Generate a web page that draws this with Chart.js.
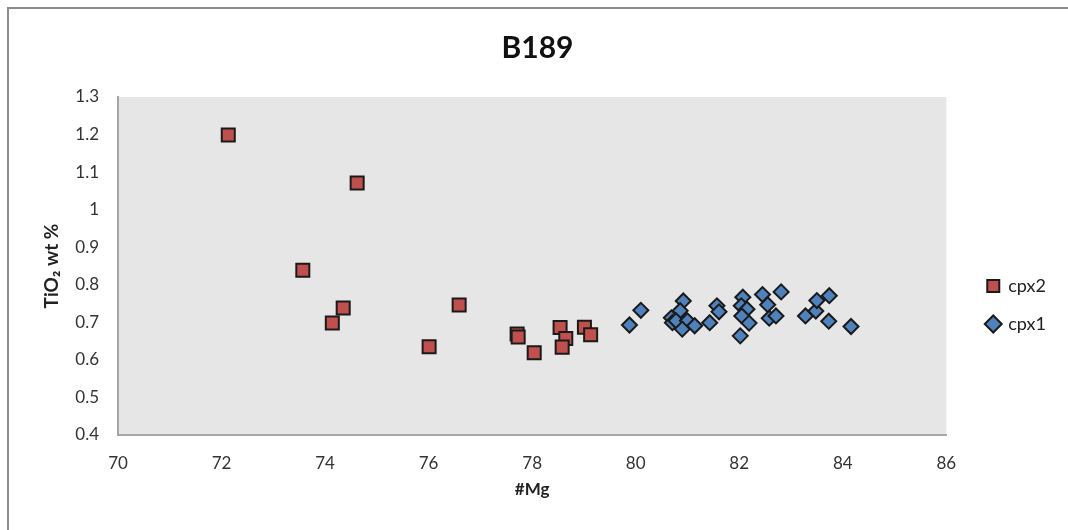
<!DOCTYPE html>
<html>
<head>
<meta charset="utf-8">
<script src="https://cdn.jsdelivr.net/npm/chart.js@4.4.1/dist/chart.umd.min.js"></script>
<style>
  body { margin: 0; background: #fff; overflow: hidden; }
  #frame {
    position: absolute; left: 7px; top: 7px; width: 1200px; height: 700px;
    border-left: 2px solid #8c8c8c; border-top: 2px solid #8c8c8c;
  }
  #wrap { position: absolute; left: 0; top: 0; width: 1068px; height: 530px; }
</style>
</head>
<body>
<div id="frame"></div>
<div id="wrap"><canvas id="chartB189" width="1068" height="530"></canvas></div>
<script>
// ---------------------------------------------------------------------------
//  Daten
// ---------------------------------------------------------------------------
const cpx2Mg  = [72.13, 74.62, 73.57, 74.35, 74.14, 76.59, 76.01, 77.71, 77.73, 78.04, 78.54, 78.65, 78.58, 79.01, 79.13];
const cpx2Ti  = [1.199, 1.071, 0.839, 0.738, 0.698, 0.746, 0.635, 0.669, 0.661, 0.619, 0.686, 0.657, 0.634, 0.687, 0.667];

const cpx1Mg  = [79.88, 80.10, 80.92, 80.86, 80.69, 80.71, 80.78, 81.00, 80.90, 81.14,
                 81.43, 81.57, 81.61, 82.07, 82.04, 82.15, 82.05, 82.19, 82.02, 82.45,
                 82.55, 82.58, 82.71, 82.81, 83.28, 83.48, 83.50, 83.74, 83.73, 84.16];
const cpx1Ti  = [0.693, 0.732, 0.757, 0.731, 0.712, 0.699, 0.704, 0.704, 0.682, 0.691,
                 0.699, 0.744, 0.728, 0.767, 0.744, 0.735, 0.717, 0.698, 0.664, 0.774,
                 0.747, 0.711, 0.717, 0.781, 0.717, 0.730, 0.758, 0.771, 0.703, 0.689];

const xTickValues = [70, 72, 74, 76, 78, 80, 82, 84, 86];
const yTickValues = [0.4, 0.5, 0.6, 0.7, 0.8, 0.9, 1.0, 1.1, 1.2, 1.3];

const toPoints = (xs, ys) => xs.map((x, i) => ({ x: x, y: ys[i] }));

// Plotfläche grau hinterlegen
const plotBackground = {
    id: "plotBackground",
    beforeDraw(chart) {
        const a = chart.chartArea;
        chart.ctx.save();
        chart.ctx.fillStyle = "#e6e6e6";
        chart.ctx.fillRect(a.left, a.top, a.right - a.left, a.bottom - a.top);
        chart.ctx.restore();
    }
};

// Legende etwas nach rechts / unten schieben
const legendShift = {
    id: "legendShift",
    afterLayout(chart) {
        const lg = chart.legend;
        lg.left += 21; lg.right += 21;
        lg.top += 55; lg.bottom += 55;
    }
};

const FONT = "Lato, 'Open Sans', sans-serif";

new Chart(document.getElementById("chartB189"), {
    type: "scatter",
    data: {
        datasets: [
            {
                label: "cpx2",
                data: toPoints(cpx2Mg, cpx2Ti),
                pointStyle: "rect",
                pointRadius: 9.2,
                backgroundColor: "#c0504d",
                borderColor: "#1a1a1a",
                borderWidth: 2
            },
            {
                label: "cpx1",
                data: toPoints(cpx1Mg, cpx1Ti),
                pointStyle: "rectRot",
                pointRadius: 7.5,
                backgroundColor: "#4f81bd",
                borderColor: "#1a1a1a",
                borderWidth: 2
            }
        ]
    },
    options: {
        responsive: false,
        animation: false,
        events: [],
        layout: { padding: { left: 40, right: 33, top: 0, bottom: 30 } },
        plugins: {
            title: {
                display: true,
                text: "B189",
                color: "#111",
                font: { family: FONT, size: 30, weight: "bold" },
                padding: { top: 30, bottom: 31 }
            },
            legend: {
                position: "right",
                labels: {
                    usePointStyle: true,
                    boxWidth: 12,
                    boxHeight: 12,
                    padding: 20,
                    color: "#222",
                    font: { family: FONT, size: 18 }
                }
            },
            tooltip: { enabled: false }
        },
        scales: {
            x: {
                type: "linear",
                min: 70, max: 86,
                afterBuildTicks: s => { s.ticks = xTickValues.map(v => ({ value: v })); },
                afterFit: s => { s.height = 65; },
                grid: { display: false, drawTicks: false },
                border: { display: true, color: "#a6a6a6", width: 2 },
                ticks: {
                    padding: 18, color: "#333",
                    font: { family: FONT, size: 17 },
                    callback: v => String(v)
                },
                title: {
                    display: true, text: "#Mg", color: "#222",
                    font: { family: FONT, size: 17, weight: "bold" },
                    padding: { top: 0, bottom: 0 }
                }
            },
            y: {
                type: "linear",
                min: 0.4, max: 1.3,
                afterBuildTicks: s => { s.ticks = yTickValues.map(v => ({ value: v })); },
                afterFit: s => { s.width = 78; },
                grid: { display: false, drawTicks: false },
                border: { display: true, color: "#a6a6a6", width: 2 },
                ticks: {
                    padding: 19, color: "#333",
                    font: { family: FONT, size: 17 },
                    callback: v => String(+v.toFixed(1))
                },
                title: {
                    display: true, text: "TiO₂ wt %", color: "#222",
                    font: { family: FONT, size: 19, weight: "bold" },
                    padding: { top: 0, bottom: 0 }
                }
            }
        }
    },
    plugins: [plotBackground, legendShift]
});
</script>
</body>
</html>
